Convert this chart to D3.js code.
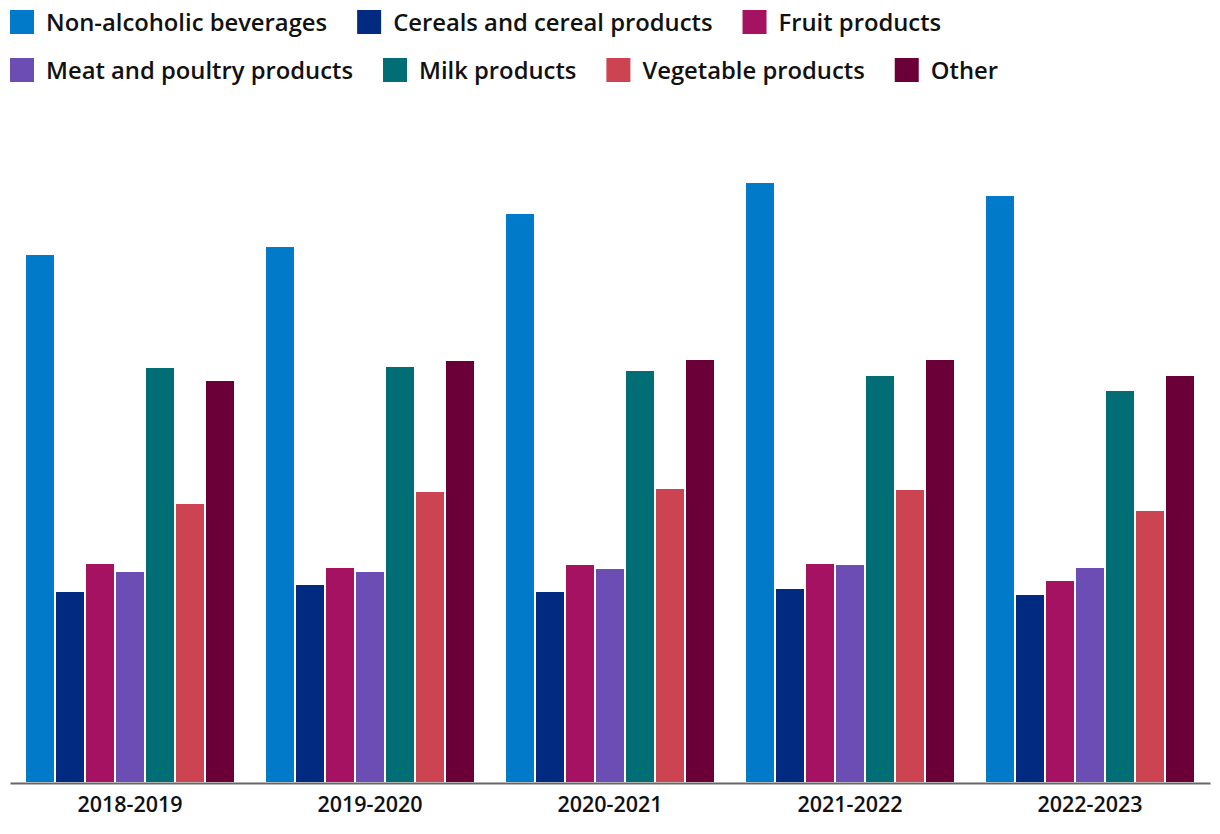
<!DOCTYPE html>
<html>
<head>
<meta charset="utf-8">
<script src="https://cdn.jsdelivr.net/npm/d3@7"></script>
<style>
  html, body { margin: 0; padding: 0; background: #fff; }
  svg { display: block; font-family: "Open Sans", Roboto, sans-serif; }
</style>
</head>
<body>
<svg id="chart" width="1220" height="834"></svg>
<script>
const years = ["2018-2019", "2019-2020", "2020-2021", "2021-2022", "2022-2023"];
const seriesNames = ["Non-alcoholic beverages", "Cereals and cereal products", "Fruit products",
  "Meat and poultry products", "Milk products", "Vegetable products", "Other"];
const seriesColors = ["#017ac9", "#012a80", "#a61262", "#6b4db3", "#006e74", "#cc4452", "#6b0038"];

// Relative values (no y axis shown in the original)
const nonAlcoholic = [527, 535, 568, 599, 586];
const cereals      = [190, 197, 190, 193, 187];
const fruit        = [218, 214, 217, 218, 201];
const meat         = [210, 210, 213, 217, 214];
const milk         = [414, 415, 411, 406, 391];
const vegetable    = [278, 290, 293, 292, 271];
const other        = [401, 421, 422, 422, 406];

const seriesValues = [nonAlcoholic, cereals, fruit, meat, milk, vegetable, other];

const svg = d3.select("#chart");

const left = 10, right = 1210, baseline = 782, topY = 182;

const x0 = d3.scaleBand().domain(years).range([left, right])
  .paddingInner(32 / 240).paddingOuter(16 / 240);
const x1 = d3.scaleBand().domain(seriesNames).range([0, x0.bandwidth()])
  .paddingInner(2 / 30).paddingOuter(0);
const y = d3.scaleLinear().domain([0, 600]).range([baseline, topY]);
const color = d3.scaleOrdinal().domain(seriesNames).range(seriesColors);

const data = years.map((yr, i) => ({
  year: yr,
  values: seriesNames.map((s, j) => ({ series: s, value: seriesValues[j][i] }))
}));

const groups = svg.append("g").selectAll("g").data(data).join("g")
  .attr("transform", d => `translate(${x0(d.year)},0)`);

groups.selectAll("rect").data(d => d.values).join("rect")
  .attr("x", d => x1(d.series))
  .attr("width", x1.bandwidth())
  .attr("y", d => y(d.value))
  .attr("height", d => baseline - y(d.value))
  .attr("fill", d => color(d.series));

// x axis
const xAxis = d3.axisBottom(x0).tickSize(0).tickPadding(14);
const axisG = svg.append("g").attr("transform", `translate(0,${baseline + 1})`).call(xAxis);
axisG.select(".domain").attr("stroke", "#666").attr("stroke-width", 2);
axisG.selectAll(".tick text")
  .attr("font-size", 21.5).attr("font-weight", 600).attr("fill", "#111")
  .attr("font-family", "'Open Sans', sans-serif");

// legend (flow layout)
const legend = svg.append("g");
const maxW = 1020, sq = 24, rowH = 48;
let lx = 10, ly = 10;
seriesNames.forEach((name, i) => {
  const g = legend.append("g");
  const t = g.append("text").text(name)
    .attr("font-size", 23.8).attr("font-weight", 600).attr("fill", "#111")
    .attr("dominant-baseline", "central");
  const w = t.node().getComputedTextLength();
  const itemW = sq + 12 + w;
  if (lx + itemW > maxW && lx > 10) { lx = 10; ly += rowH; }
  g.append("rect").attr("x", lx).attr("y", ly).attr("width", sq).attr("height", sq)
    .attr("fill", seriesColors[i]);
  t.attr("x", lx + sq + 12).attr("y", ly + sq / 2);
  lx += itemW + 30;
});
</script>
</body>
</html>
